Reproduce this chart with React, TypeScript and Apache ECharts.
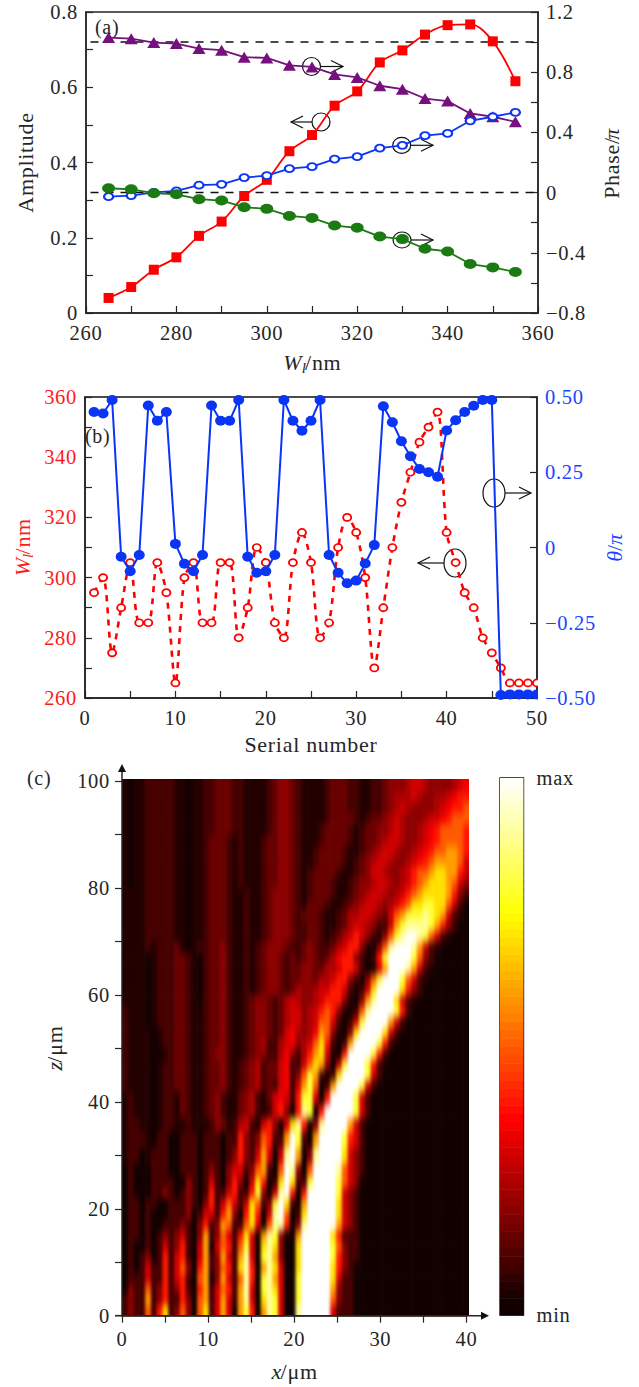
import React, { useEffect, useRef } from "react";
import * as echarts from "echarts";

const FONT = '"Liberation Serif", serif';
const INK = "#262626";
const RED = "#ff0000";
const BLUE = "#0a35f5";
const PURPLE = "#76107c";
const GREEN = "#1c7a12";
const ELLIPSE = "path://M1 0A1 1 0 1 1 -1 0A1 1 0 1 1 1 0Z";

// Panel (a)
const widths = [265, 270, 275, 280, 285, 290, 295, 300, 305, 310, 315, 320, 325, 330, 335, 340, 345, 350, 355];
const amplitudeRed = [0.04, 0.069, 0.115, 0.148, 0.205, 0.243, 0.311, 0.354, 0.43, 0.473, 0.551, 0.589, 0.666, 0.698, 0.74, 0.765, 0.767, 0.722, 0.616];
const phasePurple = [1.03, 1.023, 0.997, 0.99, 0.957, 0.946, 0.9, 0.895, 0.846, 0.835, 0.785, 0.765, 0.71, 0.687, 0.625, 0.608, 0.526, 0.504, 0.47];
const phaseBlue = [-0.027, -0.02, 0.002, 0.011, 0.049, 0.055, 0.1, 0.113, 0.159, 0.172, 0.223, 0.239, 0.296, 0.314, 0.378, 0.393, 0.477, 0.504, 0.533];
const phaseGreen = [0.029, 0.022, -0.004, -0.011, -0.044, -0.053, -0.097, -0.108, -0.155, -0.168, -0.219, -0.234, -0.292, -0.309, -0.373, -0.391, -0.475, -0.497, -0.528];
const referenceSpan = [261, 360];
const referencePhases = [1, 0];
const amplitudeLabels = ["0", "0.2", "0.4", "0.6", "0.8"];
const phaseLabels = ["\u22120.8", "\u22120.4", "0", "0.4", "0.8", "1.2"];

// Panel (b)
const serial = [1, 2, 3, 4, 5, 6, 7, 8, 9, 10, 11, 12, 13, 14, 15, 16, 17, 18, 19, 20, 21, 22, 23, 24, 25, 26, 27, 28, 29, 30, 31, 32, 33, 34, 35, 36, 37, 38, 39, 40, 41, 42, 43, 44, 45, 46, 47, 48, 49, 50];
const widthSeq = [295, 300, 275, 290, 305, 285, 285, 305, 295, 265, 300, 305, 285, 285, 305, 305, 280, 290, 310, 305, 285, 280, 305, 315, 305, 280, 285, 310, 320, 315, 300, 270, 290, 310, 325, 335, 345, 350, 355, 315, 305, 295, 290, 280, 275, 270, 265, 265, 265, 265];
const thetaSeq = [0.45, 0.445, 0.49, -0.031, -0.079, -0.025, 0.472, 0.421, 0.45, 0.012, -0.054, -0.079, -0.025, 0.472, 0.421, 0.421, 0.49, -0.031, -0.084, -0.079, -0.025, 0.49, 0.421, 0.388, 0.421, 0.49, -0.025, -0.084, -0.119, -0.11, -0.053, 0.008, 0.469, 0.416, 0.353, 0.303, 0.261, 0.25, 0.235, 0.389, 0.423, 0.45, 0.471, 0.49, 0.49, -0.49, -0.488, -0.488, -0.488, -0.488];
const widthLabels = ["260", "280", "300", "320", "340", "360"];
const thetaLabels = ["\u22120.50", "\u22120.25", "0", "0.25", "0.50"];

// Panel (c): 60 columns across x = 0..40.35 um, rows listed from top to bottom
const heatColumns = 60;
const heatXMax = 40.35;
const heatZMax = 100.45;
const heatRowZ = [99, 97, 95, 93, 91, 89, 87, 85, 83, 81, 79, 77, 75, 73, 71, 69, 67, 65, 63, 61, 59, 57, 55, 53, 51, 49, 47, 45, 43, 41, 38, 36, 33, 30, 27, 25, 23, 21, 19, 17, 15, 13, 11, 9, 7, 5, 3, 1];
const heatRows = [
  "a0aa11111a a0aa11bbb1 1aaaa1b22b 1aaaa1bbb1 1aa11b222c 33c2222c3d",
  "a0aa11111a a0aa11bbb1 1aaaa1b22b 1aaaa1bbb1 1aa11b2ccc 3c22cc3d44",
  "a0aa11111a a0aa11bbb1 1aaaa1b22b 1aaaa1bbb1 1aa11b2c3c 2222c3d445",
  "a0aa11111a a0aa11bbb1 1aaaa1b22b 1aaaa1bbbb 1a1bb2c3c2 22c33d4555",
  "a0aa11111a a0aa11bbb1 1aaaa1b22b 1aaa1bbbb1 a1bb22c3c2 2c3d455554",
  "a0aa11111a a0aa1bbb1a 1aaa1bb22b 1aaa1bbbb1 a1bb2c33c2 2c3d455554",
  "a0aa11111a a0aa1bbb1a 1aaa1bb22b 1aa1bbbb1a a1b2c33c22 c3d4556654",
  "a0aa11111a a0aa1bbb1a 1aaa1bb22b 1aa1bbbb1a 1b2c33c22c 3d45666653",
  "a0aa11111a a0aa1bbb1a 1aaa1bb22b 1a1bbbb1aa 1b233c22c3 4556776643",
  "a0aa11111a a0aa1bbb1a 1aaa1bb22b 1a1bbb1aa1 b22c33c2c3 4567776532",
  "aaaa11111a a0aa1bbb1a a1aa1b222b 1a1bbb1aa1 b2c33c2c34 5677776421",
  "aaaa11111a a0aa1bbb1a a1aa1b222b 1abbb1aa1b 2c33c2c345 7788775310",
  "aaaa11111a a0aa1bbb1a a1aa1b222b 1bbb1aa1bc c33c2b3568 889876 31a0",
  "aaaa11111a a0aa1bbb1a a1aa1b222b 11bb1aa1bc 33c2113689 9998642100",
  "aaaa11111a a0aa1bbb1a a1aa1b222b 11bb1a1bc3 4321a2589A A98531a000",
  "aaaa1a111b a0a11bb21a a1a1b222b1 1b2b11bc34 42a0259AAA 9631a00000",
  "aaaa0a111b b1a01bb21a a1a1b22b1b 1b2b1bcd44 210148AAAA 8521000000",
  "aaaa0a111b b1a01bb21a a1a1b22b1b b22bbcc344 310036AAA9 631a000000",
  "aaaa0a111b b1a01bb21a a1a1b22b1b b22bcc3442 10258AAA85 31a0000000",
  "aaaa0a111b b1a01bb21a a1a1b22b1b c22c334431 0137AAAA74 2100000000",
  "aaaa0a111b b1a01bb21a a1b22b1bc3 c22c34442a 0269AAA731 a000000000",
  "1aaa0a111b b1aa1bb21a a1b22b1bc3 32c34542a0 159AAAA841 0000000000",
  "1aaa0a111b b1aa1bb21a a1b22b1bc3 32c3553101 38AAAA6310 0000000000",
  "1aaaa0a11b b1aa1bb21a a1b22b1b3d c2cd652a02 7AAAA73100 0000000000",
  "1aaaa0a11b b1aa1bb21a a1b2c11c3d 2c35741016 AAAA841000 0000000000",
  "1aaaa00a1b b1aa1b221a a1b2211cd2 1c4673a04A AAA8410000 0000000000",
  "1aaaa0a11b b1aa1bb21a 1b2c1bb3d1 135762038A AA84100000 0000000000",
  "1aaaa0a11b b1aa1bb21a 1b2c1bb3d1 25861017AA AA83100000 0000000000",
  "1aaaa0a11b b1aa1bb21a 1b2c1b13d1 3685016AAA A831000000 0000000000",
  "a1aaa0a11a b1aa1b21aa b2c1ab3d31 488304AAAA 8310000000 0000000000",
  "a1aaa0a11a b1aa1b21aa b2c1a13420 49804AAAAA 8310000000 0000000000",
  "a11aa0a11a a1aaa12ba1 c31a342037 94029AAAA6 3100000000 0000000000",
  "a111a01100 1110111011 421254116A 8106AAAA84 3100000000 0000000000",
  "a110a11100 1110111012 4213630 39A 6029AAAA73 2100000000 0000000000",
  "0100011100 1110121023 31256105A9 205AAAA953 2100000000 0000000000",
  "0100011110 0210131024 20374017A7 118AAAA853 2000000000 0000000000",
  "0100011210 1210141134 11482039A4 04AAAAA832 1000000000 0000000000",
  "0110110011 1210241353 1375128A71 06AAAAA732 1000000000 0000000000",
  "0110100011 1201331462 0474039A50 17AAAAA732 1000000000 0000000000",
  "0110100111 2102412651 1573059940 29AAAAA632 1000000000 0000000000",
  "0110101212 3102612531 4730698200 6AAAAA7411 1000000000 0000000000",
  "0100101312 4103603541 5830797200 7AAAAA8521 1000000000 0000000000",
  "0101201413 4103612631 6930896200 7AAAAA8421 1000000000 0000000000",
  "0101311413 5204612541 7940697300 7AAAAA7421 0000000000 0000000000",
  "0111311413 4105602631 5940896300 8AAAAA7311 0000000000 0000000000",
  "0211512412 4104613541 6930897300 8AAAAA6211 0000000000 0000000000",
  "1211612411 4205613631 6930798300 8AAAAA5211 0000000000 0000000000",
  "1211514712 5205713630 6840698300 9AAAAA3111 0000000000 0000000000",
];
const heatLevels: Record<string, number> = { "0": 0, a: 0.05, "1": 0.1, b: 0.15, "2": 0.2, c: 0.25, "3": 0.3, d: 0.35, "4": 0.4, "5": 0.5, "6": 0.6, "7": 0.7, "8": 0.8, "9": 0.9, A: 1 };
const heatXLabels = ["0", "", "10", "", "20", "", "30", "", "40"];
const heatZLabels = ["0", "", "20", "", "40", "", "60", "", "80", "", "100"];

const clamp = (v: number) => Math.max(0, Math.min(1, v));
const hot = (v: number) => {
  const r = Math.max(0.07, clamp(v / 0.365));
  const g = clamp((v - 0.365) / 0.381);
  const b = clamp((v - 0.746) / 0.254);
  return `rgb(${Math.round(r * 255)},${Math.round(g * 255)},${Math.round(b * 255)})`;
};

const labelOf = (labels: string[], min: number, step: number) => (v: number) => labels[Math.round((v - min) / step)] ?? "";

const text = (x: number, y: number, t: string) => ({
  type: "text", x, y, silent: true,
  style: { text: t, font: `20px ${FONT}`, fill: INK, align: "left", verticalAlign: "middle" },
});
const stroke = { stroke: "#111", lineWidth: 1.2, fill: "none" };
const ellipse = (cx: number, cy: number, rx: number, ry: number) => ({ type: "ellipse", silent: true, shape: { cx, cy, rx, ry }, style: stroke });
const arrow = (x1: number, x2: number, y: number, barbLen = 12, barbH = 6) => {
  const d = x2 > x1 ? -1 : 1;
  return [
    { type: "line", silent: true, shape: { x1, y1: y, x2, y2: y }, style: stroke },
    { type: "polyline", silent: true, shape: { points: [[x2 + d * barbLen, y - barbH], [x2, y], [x2 + d * barbLen, y + barbH]] }, style: stroke },
  ];
};

const axisLine = (color = INK) => ({ show: true, onZero: false, lineStyle: { color, width: 1.5 } });
const labelStyle = (color = INK, margin = 8) => ({ color, fontFamily: FONT, fontSize: 20.5, margin });
const nameStyle = (color = INK) => ({
  color, fontFamily: FONT, fontSize: 22,
  rich: {
    i: { color, fontFamily: FONT, fontSize: 22, fontStyle: "italic", lineHeight: 26 },
    s: { color, fontFamily: FONT, fontSize: 15, fontStyle: "italic", lineHeight: 15, verticalAlign: "bottom" },
    n: { color, fontFamily: FONT, fontSize: 22, lineHeight: 26 },
  },
});
const inTick = (color = INK) => ({ show: true, inside: true, length: 7, lineStyle: { color, width: 1.2 } });
const minor = (color = INK) => ({ show: true, splitNumber: 2, length: 7, lineStyle: { color, width: 1.2 } });
const noSplit = { show: false };

function mainOption() {
  const pairs = (xs: number[], ys: number[]) => xs.map((x, i) => [x, ys[i]]);
  const cbLevels = Array.from({ length: 64 }, (_, i) => i);
  return {
    animation: false,
    grid: [
      { left: 86, top: 12, width: 452, height: 301, show: true, borderColor: INK, borderWidth: 1.5, backgroundColor: "transparent" },
      { left: 85, top: 397, width: 452, height: 301, show: true, borderColor: "#111", borderWidth: 1.5, backgroundColor: "transparent" },
      { left: 122, top: 781, width: 344.5, height: 534.7 },
      { left: 500, top: 778, width: 23.5, height: 537 },
    ],
    xAxis: [
      { gridIndex: 0, type: "value", min: 260, max: 360, interval: 20, axisLine: axisLine(), axisTick: inTick(), minorTick: minor(), splitLine: noSplit, axisLabel: labelStyle(INK, 9), name: "{i|W}{s|l}{n|/nm}", nameLocation: "middle", nameGap: 36, nameTextStyle: nameStyle() },
      { gridIndex: 1, type: "value", min: 0, max: 50, interval: 10, axisLine: axisLine(), axisTick: inTick(), minorTick: minor(), splitLine: noSplit, axisLabel: labelStyle(INK, 9), name: "Serial number", nameLocation: "middle", nameGap: 35, nameTextStyle: nameStyle() },
      { gridIndex: 2, type: "value", min: 0, max: 40, interval: 5, axisLine: axisLine(), axisTick: { show: true, length: 7, lineStyle: { color: INK, width: 1.2 } }, splitLine: noSplit, axisLabel: { ...labelStyle(INK, 13), formatter: labelOf(heatXLabels, 0, 5) }, name: "{i|x}{n|/\u03bcm}", nameLocation: "middle", nameGap: 43, nameTextStyle: nameStyle() },
      { gridIndex: 3, type: "value", min: 0, max: 1, show: false },
    ],
    yAxis: [
      { gridIndex: 0, type: "value", min: 0, max: 0.8, interval: 0.2, axisLine: axisLine(), axisTick: inTick(), minorTick: minor(), splitLine: noSplit, axisLabel: { ...labelStyle(), formatter: labelOf(amplitudeLabels, 0, 0.2) }, name: "Amplitude", nameLocation: "middle", nameGap: 50, nameTextStyle: nameStyle() },
      { gridIndex: 0, type: "value", position: "right", min: -0.8, max: 1.2, interval: 0.4, axisLine: axisLine(), axisTick: inTick(), minorTick: minor(), splitLine: noSplit, axisLabel: { ...labelStyle(), formatter: labelOf(phaseLabels, -0.8, 0.4) }, name: "Phase/{i|\u03c0}", nameLocation: "middle", nameGap: 60, nameTextStyle: nameStyle() },
      { gridIndex: 1, type: "value", min: 260, max: 360, interval: 20, axisLine: axisLine(), axisTick: inTick(), minorTick: minor(), splitLine: noSplit, axisLabel: { ...labelStyle("#ff1a1a"), formatter: labelOf(widthLabels, 260, 20) }, name: "{i|W}{s|l}{n|/nm}", nameLocation: "middle", nameGap: 50, nameTextStyle: nameStyle("#ff1a1a") },
      { gridIndex: 1, type: "value", position: "right", min: -0.5, max: 0.5, interval: 0.25, axisLine: axisLine(), axisTick: inTick(), splitLine: noSplit, axisLabel: { ...labelStyle("#1a45ff"), formatter: labelOf(thetaLabels, -0.5, 0.25) }, name: "{i|\u03b8}{n|/}{i|\u03c0}", nameLocation: "middle", nameGap: 63, nameTextStyle: nameStyle("#1a45ff") },
      { gridIndex: 2, type: "value", min: 0, max: 100, interval: 10, axisLine: axisLine(), axisTick: { show: true, length: 7, lineStyle: { color: INK, width: 1.2 } }, splitLine: noSplit, axisLabel: { ...labelStyle(INK, 12), formatter: labelOf(heatZLabels, 0, 10) }, name: "{i|z}{n|/\u03bcm}", nameLocation: "middle", nameGap: 55, nameTextStyle: nameStyle() },
      { gridIndex: 3, type: "value", position: "right", min: 0, max: 1, interval: 0.1, axisLine: { show: false, onZero: false }, axisTick: { show: true, inside: true, length: 2.5, lineStyle: { color: "#333", width: 1 } }, splitLine: noSplit, axisLabel: { ...labelStyle(INK, 13), formatter: (v: number) => (v === 1 ? "max" : v === 0 ? "min" : "") } },
    ],
    series: [
      { type: "line", xAxisIndex: 0, yAxisIndex: 1, data: pairs(referenceSpan, [referencePhases[0], referencePhases[0]]), showSymbol: false, lineStyle: { color: "#111", width: 1.5, type: [8, 7] }, z: 1, silent: true },
      { type: "line", xAxisIndex: 0, yAxisIndex: 1, data: pairs(referenceSpan, [referencePhases[1], referencePhases[1]]), showSymbol: false, lineStyle: { color: "#111", width: 1.5, type: [8, 7] }, z: 1, silent: true },
      { type: "line", xAxisIndex: 0, yAxisIndex: 0, data: pairs(widths, amplitudeRed), smooth: 0.35, symbol: "rect", symbolSize: 10, itemStyle: { color: RED }, lineStyle: { color: RED, width: 1.8 }, z: 2 },
      { type: "line", xAxisIndex: 0, yAxisIndex: 1, data: pairs(widths, phasePurple), symbol: "triangle", symbolSize: [13, 11], itemStyle: { color: PURPLE }, lineStyle: { color: PURPLE, width: 1.8 }, z: 3 },
      { type: "line", xAxisIndex: 0, yAxisIndex: 1, data: pairs(widths, phaseBlue), symbol: ELLIPSE, symbolSize: [9, 7], itemStyle: { color: "#fff", borderColor: BLUE, borderWidth: 2 }, lineStyle: { color: BLUE, width: 1.8 }, z: 4 },
      { type: "line", xAxisIndex: 0, yAxisIndex: 1, data: pairs(widths, phaseGreen), symbol: ELLIPSE, symbolSize: [13, 10], itemStyle: { color: GREEN }, lineStyle: { color: GREEN, width: 1.8 }, z: 5 },
      { type: "line", xAxisIndex: 1, yAxisIndex: 2, data: pairs(serial, widthSeq), smooth: 0.3, symbol: ELLIPSE, symbolSize: [8, 7], itemStyle: { color: "#fff", borderColor: RED, borderWidth: 1.8 }, lineStyle: { color: RED, width: 2.6, type: [6, 6] }, z: 2 },
      { type: "line", xAxisIndex: 1, yAxisIndex: 3, data: pairs(serial, thetaSeq), symbol: ELLIPSE, symbolSize: [11, 10], itemStyle: { color: BLUE }, lineStyle: { color: BLUE, width: 2 }, z: 3 },
      {
        type: "custom", xAxisIndex: 3, yAxisIndex: 5, silent: true, data: cbLevels.map((i) => [0, i]),
        renderItem: (_: unknown, api: any) => {
          const i = api.value(1);
          const a = api.coord([0, (i + 1) / 64]);
          const b = api.coord([1, i / 64]);
          return { type: "rect", shape: { x: a[0], y: a[1], width: b[0] - a[0], height: b[1] - a[1] + 0.5 }, style: { fill: hot((i + 0.5) / 64) } };
        },
      },
    ],
    graphic: {
      elements: [
        text(95, 27, "(a)"),
        text(85, 436, "(b)"),
        text(27, 778, "(c)"),
        { type: "rect", silent: true, z: 50, shape: { x: 538, y: 672, width: 8, height: 30 }, style: { fill: "#fff" } },
        ellipse(311.5, 66.5, 9, 9), ...arrow(320, 343, 66.5),
        ellipse(321, 122, 9, 9), ...arrow(312, 291, 122),
        ellipse(401.7, 145.3, 9, 8), ...arrow(411, 433, 145.3),
        ellipse(402, 240, 9, 8), ...arrow(411, 433, 240),
        ellipse(494, 493, 11, 14), ...arrow(505, 531, 493),
        ellipse(455, 563, 11, 14), ...arrow(444, 418, 563),
        { type: "line", silent: true, shape: { x1: 122, y1: 781, x2: 122, y2: 770 }, style: { stroke: INK, lineWidth: 1.5 } },
        { type: "polygon", silent: true, shape: { points: [[122, 764], [118, 772], [126, 772]] }, style: { fill: "#111" } },
        { type: "line", silent: true, shape: { x1: 115, y1: 1315.7, x2: 484, y2: 1315.7 }, style: { stroke: INK, lineWidth: 1.5 } },
        { type: "polygon", silent: true, shape: { points: [[489, 1315.7], [481, 1311.7], [481, 1319.7]] }, style: { fill: "#111" } },
        { type: "rect", silent: true, shape: { x: 500, y: 778, width: 23.5, height: 537 }, style: { stroke: "#111", lineWidth: 1.4, fill: "none" } },
      ],
    },
  };
}

const HEAT_W = 347;
const HEAT_H = 537;
const HEAT_BLEED = 20;

function heatOption() {
  const zEdges = heatRowZ.map((z, i) => {
    const up = i === 0 ? heatZMax : (z + heatRowZ[i - 1]) / 2;
    const down = i === heatRowZ.length - 1 ? 0 : (z + heatRowZ[i + 1]) / 2;
    return [up, down];
  });
  const step = heatXMax / heatColumns;
  const cells: number[][] = [];
  heatRows.forEach((row, r) => {
    const chars = row.replace(/\s+/g, "").padEnd(heatColumns, "0");
    for (let c = 0; c < heatColumns; c++) cells.push([c, r, heatLevels[chars[c]] ?? 0]);
  });
  return {
    animation: false,
    grid: { left: HEAT_BLEED, right: HEAT_BLEED, top: HEAT_BLEED, bottom: HEAT_BLEED },
    xAxis: { type: "value", min: 0, max: heatXMax, show: false },
    yAxis: { type: "value", min: 0, max: heatZMax, show: false },
    series: [{
      type: "custom", silent: true, clip: false, data: cells,
      renderItem: (_: unknown, api: any) => {
        const c = api.value(0);
        const r = api.value(1);
        const a = api.coord([c * step, zEdges[r][0]]);
        const b = api.coord([(c + 1) * step, zEdges[r][1]]);
        const x0 = c === 0 ? a[0] - HEAT_BLEED : a[0];
        const x1 = c === heatColumns - 1 ? b[0] + HEAT_BLEED : b[0] + 0.6;
        const y0 = r === 0 ? a[1] - HEAT_BLEED : a[1];
        const y1 = r === heatRows.length - 1 ? b[1] + HEAT_BLEED : b[1] + 0.6;
        return { type: "rect", shape: { x: x0, y: y0, width: x1 - x0, height: y1 - y0 }, style: { fill: hot(api.value(2)) } };
      },
    }],
  };
}

export default function App() {
  const mainRef = useRef<HTMLDivElement>(null);
  const heatRef = useRef<HTMLDivElement>(null);
  useEffect(() => {
    const heat = echarts.init(heatRef.current!, undefined, { renderer: "svg" });
    heat.setOption(heatOption() as any);
    const main = echarts.init(mainRef.current!, undefined, { renderer: "svg" });
    main.setOption(mainOption() as any);
    return () => {
      main.dispose();
      heat.dispose();
    };
  }, []);
  return (
    <>
      <style>{`#main-chart svg text { letter-spacing: 0.7px; }`}</style>
      <svg width="0" height="0" style={{ position: "absolute" }}>
        <filter id="heatBlur" x="-5%" y="-5%" width="110%" height="110%" colorInterpolationFilters="sRGB">
          <feGaussianBlur stdDeviation="1.7 4.2" />
        </filter>
      </svg>
      <div style={{ position: "absolute", left: 122, top: 779, width: HEAT_W, height: HEAT_H, overflow: "hidden" }}>
        <div
          ref={heatRef}
          style={{ position: "absolute", left: -HEAT_BLEED, top: -HEAT_BLEED, width: HEAT_W + 2 * HEAT_BLEED, height: HEAT_H + 2 * HEAT_BLEED, filter: "url(#heatBlur)" }}
        />
      </div>
      <div id="main-chart" ref={mainRef} style={{ position: "absolute", left: 0, top: 0, width: 639, height: 1387 }} />
    </>
  );
}
